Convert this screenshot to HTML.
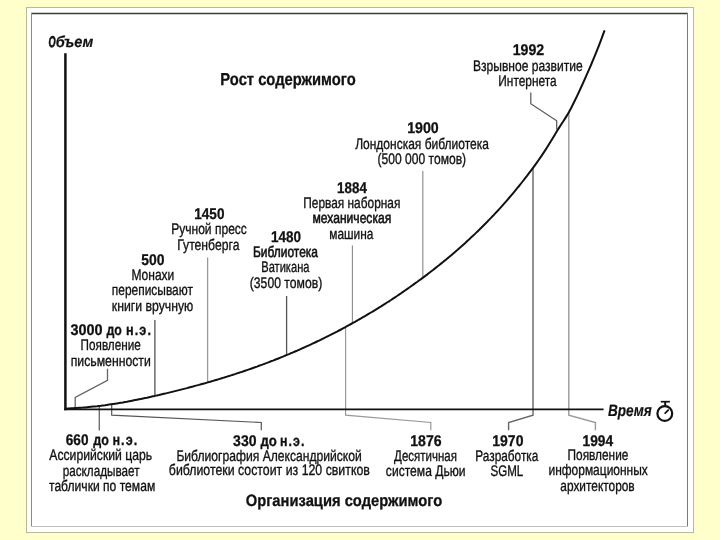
<!DOCTYPE html>
<html><head><meta charset="utf-8"><style>
html,body{margin:0;padding:0;width:720px;height:540px;overflow:hidden;background:#FFFFCC;}
svg{position:absolute;left:0;top:0;display:block;}
.r{font-weight:400;stroke:#111;stroke-width:0.35px;} .m{font-weight:400;stroke:#111;stroke-width:0.6px;} .b{font-weight:700;stroke:#111;stroke-width:0.3px;} .bi{font-weight:700;font-style:italic;stroke:#111;stroke-width:0.2px;} .bj{font-weight:700;font-style:italic;stroke:#111;stroke-width:0.7px;} text{font-family:"Liberation Sans",sans-serif;fill:#111;text-rendering:geometricPrecision;}
</style></head><body>
<svg width="720" height="540" viewBox="0 0 720 540">
<rect x="26.5" y="7.5" width="667" height="525" fill="#FFFFFF" stroke="#B8B89A" stroke-width="1"/>
<rect x="31" y="13" width="657" height="514" fill="#FFFFFF"/>
<line x1="31" y1="13.5" x2="688" y2="13.5" stroke="#3a3a3a" stroke-width="1.5"/>
<line x1="31.5" y1="13" x2="31.5" y2="527" stroke="#8a8a8a" stroke-width="1"/>
<line x1="687.5" y1="13" x2="687.5" y2="527" stroke="#7a7a7a" stroke-width="1"/>
<line x1="31" y1="526.5" x2="688" y2="526.5" stroke="#c0c0c0" stroke-width="1"/>
<g fill="none" stroke-linejoin="miter">
<path d="M107.5,368.8 L107.5,380.3 L75.2,397.5 L75.2,408" stroke="#666" stroke-width="1.3"/>
<path d="M154.9,320 L154.9,396" stroke="#555" stroke-width="1.3"/>
<path d="M207.6,257.5 L207.6,382" stroke="#999" stroke-width="1.3"/>
<path d="M286.6,296 L286.6,355" stroke="#555" stroke-width="1.3"/>
<path d="M352.4,245.6 L352.4,323.5" stroke="#888" stroke-width="1.1"/>
<path d="M422.8,171 L422.8,278.5" stroke="#999" stroke-width="1.3"/>
<path d="M530.8,92.5 L530.8,103.8 L556.7,120.8 L556.7,129.5" stroke="#555" stroke-width="1.2"/>
<path d="M99.3,406 L99.3,430.4" stroke="#666" stroke-width="1.3"/>
<path d="M111.7,404.5 L111.7,415.2 L261.3,422.5 L261.3,430.2" stroke="#555" stroke-width="1.2"/>
<path d="M345.6,327.5 L345.6,415.2 L430.8,422.5 L430.8,430.2" stroke="#999" stroke-width="1.2"/>
<path d="M533.0,168 L533.0,415.2 L508.6,422.5 L508.6,430.2" stroke="#666" stroke-width="1.4"/>
<path d="M568.8,111.5 L568.8,415.2 L595.4,422.5 L595.4,430.2" stroke="#999" stroke-width="1.4"/>
</g>
<path d="M67.0,408.4 L69.0,408.4 L71.0,408.3 L73.0,408.2 L75.0,408.1 L77.0,408.0 L79.0,407.8 L81.0,407.7 L83.0,407.6 L85.0,407.4 L87.0,407.2 L89.0,407.0 L91.0,406.8 L93.0,406.6 L95.0,406.4 L97.0,406.2 L99.0,405.9 L101.0,405.7 L103.0,405.4 L105.0,405.2 L107.0,404.9 L109.0,404.6 L111.0,404.3 L113.0,404.0 L115.0,403.7 L117.0,403.4 L119.0,403.1 L121.0,402.7 L123.0,402.4 L125.0,402.0 L127.0,401.7 L129.0,401.3 L131.0,400.9 L133.0,400.5 L135.0,400.1 L137.0,399.7 L139.0,399.3 L141.0,398.9 L143.0,398.5 L145.0,398.1 L147.0,397.7 L149.0,397.2 L151.0,396.8 L153.0,396.3 L155.0,395.9 L157.0,395.4 L159.0,395.0 L161.0,394.5 L163.0,394.0 L165.0,393.6 L167.0,393.1 L169.0,392.6 L171.0,392.1 L173.0,391.6 L175.0,391.1 L177.0,390.6 L179.0,390.1 L181.0,389.6 L183.0,389.1 L185.0,388.6 L187.0,388.1 L189.0,387.5 L191.0,387.0 L193.0,386.5 L195.0,385.9 L197.0,385.4 L199.0,384.9 L201.0,384.3 L203.0,383.7 L205.0,383.2 L207.0,382.6 L209.0,382.0 L211.0,381.5 L213.0,380.9 L215.0,380.3 L217.0,379.7 L219.0,379.1 L221.0,378.5 L223.0,377.9 L225.0,377.3 L227.0,376.6 L229.0,376.0 L231.0,375.4 L233.0,374.7 L235.0,374.1 L237.0,373.4 L239.0,372.8 L241.0,372.1 L243.0,371.5 L245.0,370.8 L247.0,370.1 L249.0,369.4 L251.0,368.7 L253.0,368.0 L255.0,367.3 L257.0,366.6 L259.0,365.8 L261.0,365.1 L263.0,364.4 L265.0,363.6 L267.0,362.9 L269.0,362.1 L271.0,361.3 L273.0,360.6 L275.0,359.8 L277.0,359.0 L279.0,358.2 L281.0,357.4 L283.0,356.6 L285.0,355.7 L287.0,354.9 L289.0,354.1 L291.0,353.2 L293.0,352.4 L295.0,351.5 L297.0,350.7 L299.0,349.8 L301.0,348.9 L303.0,348.0 L305.0,347.1 L307.0,346.2 L309.0,345.3 L311.0,344.4 L313.0,343.4 L315.0,342.5 L317.0,341.5 L319.0,340.6 L321.0,339.6 L323.0,338.6 L325.0,337.6 L327.0,336.6 L329.0,335.6 L331.0,334.6 L333.0,333.6 L335.0,332.6 L337.0,331.6 L339.0,330.5 L341.0,329.5 L343.0,328.4 L345.0,327.3 L347.0,326.2 L349.0,325.1 L351.0,324.0 L353.0,322.9 L355.0,321.8 L357.0,320.7 L359.0,319.5 L361.0,318.4 L363.0,317.2 L365.0,316.1 L367.0,314.9 L369.0,313.7 L371.0,312.5 L373.0,311.3 L375.0,310.1 L377.0,308.8 L379.0,307.6 L381.0,306.4 L383.0,305.1 L385.0,303.8 L387.0,302.5 L389.0,301.3 L391.0,300.0 L393.0,298.6 L395.0,297.3 L397.0,296.0 L399.0,294.6 L401.0,293.3 L403.0,291.9 L405.0,290.5 L407.0,289.1 L409.0,287.7 L411.0,286.3 L413.0,284.9 L415.0,283.4 L417.0,282.0 L419.0,280.5 L421.0,279.1 L423.0,277.6 L425.0,276.1 L427.0,274.6 L429.0,273.0 L431.0,271.5 L433.0,270.0 L435.0,268.4 L437.0,266.8 L439.0,265.2 L441.0,263.6 L443.0,262.0 L445.0,260.4 L447.0,258.7 L449.0,257.1 L451.0,255.4 L453.0,253.7 L455.0,252.0 L457.0,250.3 L459.0,248.5 L461.0,246.8 L463.0,245.0 L465.0,243.2 L467.0,241.3 L469.0,239.5 L471.0,237.6 L473.0,235.8 L475.0,233.9 L477.0,231.9 L479.0,230.0 L481.0,228.0 L483.0,226.0 L485.0,224.0 L487.0,222.0 L489.0,219.9 L491.0,217.9 L493.0,215.8 L495.0,213.6 L497.0,211.5 L499.0,209.3 L501.0,207.1 L503.0,204.8 L505.0,202.6 L507.0,200.3 L509.0,198.0 L511.0,195.6 L513.0,193.3 L515.0,190.9 L517.0,188.4 L519.0,186.0 L521.0,183.5 L523.0,181.0 L525.0,178.4 L527.0,175.9 L529.0,173.2 L531.0,170.6 L533.0,167.9 L535.0,165.1 L537.0,162.3 L539.0,159.5 L541.0,156.6 L543.0,153.6 L545.0,150.6 L547.0,147.5 L549.0,144.3 L551.0,141.0 L553.0,137.7 L555.0,134.4 L557.0,131.0 L559.0,127.9 L561.0,124.8 L563.0,121.7 L565.0,118.6 L567.0,115.4 L569.0,112.0 L571.0,108.3 L573.0,104.3 L575.0,100.3 L577.0,96.1 L579.0,91.8 L581.0,87.5 L583.0,83.1 L585.0,78.7 L587.0,74.2 L589.0,69.7 L591.0,65.0 L593.0,60.2 L595.0,55.4 L597.0,50.4 L599.0,45.3 L601.0,40.1 L603.0,34.7 L604.3,31.1" fill="none" stroke="#111" stroke-width="2" stroke-linejoin="round" stroke-linecap="round"/>
<line x1="65.4" y1="53.3" x2="65.4" y2="410.2" stroke="#111" stroke-width="2.5"/>
<line x1="64.15" y1="409.3" x2="603.6" y2="409.3" stroke="#111" stroke-width="1.8"/>
<g fill="none" stroke="#111">
<circle cx="664.8" cy="413.5" r="7.4" stroke-width="2.2"/>
<line x1="660.8" y1="401.7" x2="669.9" y2="401.7" stroke-width="1.7"/>
<line x1="665.2" y1="402" x2="665.2" y2="406.5" stroke-width="2"/>
<line x1="665.2" y1="413.2" x2="668.2" y2="410.2" stroke-width="1.8" stroke-linecap="round"/>
</g>
<g style="filter:grayscale(1)">
<text class="bj" font-size="15.6" transform="translate(48.60 47.30) scale(0.5842 1)">О</text>
<text class="bi" font-size="15.6" transform="translate(55.79 47.30) scale(0.9344 1)">бъем</text>
<text class="b" font-size="17.3" transform="translate(220.36 84.80) scale(0.8532 1)">Рост содержимого</text>
<text class="b" font-size="15.5" transform="translate(512.68 55.30) scale(0.9144 1)">1992</text>
<text class="r" font-size="15.3" transform="translate(472.98 70.60) scale(0.7883 1)">Взрывное развитие</text>
<text class="r" font-size="15.3" transform="translate(498.29 85.80) scale(0.7784 1)">Интернета</text>
<text class="b" font-size="15.5" transform="translate(407.18 133.30) scale(0.9148 1)">1900</text>
<text class="r" font-size="15.3" transform="translate(355.20 148.50) scale(0.7840 1)">Лондонская библиотека</text>
<text class="r" font-size="15.3" transform="translate(377.58 163.50) scale(0.7885 1)">(500 000 томов)</text>
<text class="b" font-size="15.5" transform="translate(337.12 192.80) scale(0.8620 1)">1884</text>
<text class="r" font-size="15.3" transform="translate(303.29 208.10) scale(0.7765 1)">Первая наборная</text>
<text class="m" font-size="15.3" transform="translate(312.52 223.40) scale(0.7901 1)">механическая</text>
<text class="r" font-size="15.3" transform="translate(329.27 238.90) scale(0.7778 1)">машина</text>
<text class="b" font-size="15.5" transform="translate(271.02 242.00) scale(0.8698 1)">1480</text>
<text class="m" font-size="15.3" transform="translate(253.03 256.60) scale(0.7805 1)">Библиотека</text>
<text class="r" font-size="15.3" transform="translate(261.24 272.20) scale(0.7259 1)">Ватикана</text>
<text class="r" font-size="15.3" transform="translate(249.77 287.70) scale(0.7963 1)">(3500 томов)</text>
<text class="b" font-size="15.5" transform="translate(194.32 218.60) scale(0.8728 1)">1450</text>
<text class="r" font-size="15.3" transform="translate(171.18 233.80) scale(0.7872 1)">Ручной пресс</text>
<text class="r" font-size="15.3" transform="translate(177.28 249.90) scale(0.7960 1)">Гутенберга</text>
<text class="b" font-size="15.5" transform="translate(141.20 264.90) scale(0.8962 1)">500</text>
<text class="r" font-size="15.3" transform="translate(131.38 279.80) scale(0.7868 1)">Монахи</text>
<text class="r" font-size="15.3" transform="translate(111.87 295.20) scale(0.7799 1)">переписывают</text>
<text class="r" font-size="15.3" transform="translate(111.86 310.50) scale(0.7996 1)">книги вручную</text>
<text class="b" font-size="15.5" transform="translate(70.41 334.80) scale(0.9315 1)">3000</text>
<text class="b" font-size="15.5" transform="translate(106.40 334.80) scale(0.7982 1)">до</text>
<text class="b" font-size="15.5" letter-spacing="1.3" transform="translate(126.03 334.80) scale(0.8184 1)">н.э.</text>
<text class="r" font-size="15.3" transform="translate(80.60 349.60) scale(0.7662 1)">Появление</text>
<text class="r" font-size="15.3" transform="translate(70.66 365.50) scale(0.8011 1)">письменности</text>
<text class="bi" font-size="16.5" transform="translate(608.02 415.60) scale(0.8222 1)">Время</text>
<text class="b" font-size="15.5" transform="translate(65.81 445.30) scale(0.8762 1)">660</text>
<text class="b" font-size="15.5" transform="translate(93.30 445.30) scale(0.8086 1)">до</text>
<text class="b" font-size="15.5" letter-spacing="1.3" transform="translate(112.43 445.30) scale(0.8150 1)">н.э.</text>
<text class="r" font-size="15.3" transform="translate(49.29 460.20) scale(0.7969 1)">Ассирийский царь</text>
<text class="r" font-size="15.3" transform="translate(62.68 475.60) scale(0.7658 1)">раскладывает</text>
<text class="r" font-size="15.3" transform="translate(48.97 490.70) scale(0.7913 1)">таблички по темам</text>
<text class="b" font-size="15.5" transform="translate(233.11 445.50) scale(0.9037 1)">330</text>
<text class="b" font-size="15.5" transform="translate(260.41 445.50) scale(0.8503 1)">до</text>
<text class="b" font-size="15.5" letter-spacing="1.3" transform="translate(280.04 445.50) scale(0.8013 1)">н.э.</text>
<text class="r" font-size="15.3" transform="translate(176.38 460.50) scale(0.7922 1)">Библиография Александрийской</text>
<text class="r" font-size="15.3" transform="translate(168.82 475.40) scale(0.8060 1)">библиотеки состоит из 120 свитков</text>
<text class="b" font-size="15.5" transform="translate(410.29 445.50) scale(0.9081 1)">1876</text>
<text class="r" font-size="15.3" transform="translate(394.12 460.50) scale(0.7512 1)">Десятичная</text>
<text class="r" font-size="15.3" transform="translate(385.86 475.50) scale(0.7903 1)">система Дьюи</text>
<text class="b" font-size="15.5" transform="translate(492.29 445.50) scale(0.9028 1)">1970</text>
<text class="r" font-size="15.3" transform="translate(475.30 460.60) scale(0.7729 1)">Разработка</text>
<text class="r" font-size="15.3" transform="translate(490.50 475.60) scale(0.7555 1)">SGML</text>
<text class="b" font-size="15.5" transform="translate(582.51 445.50) scale(0.8854 1)">1994</text>
<text class="r" font-size="15.3" transform="translate(567.60 460.40) scale(0.7740 1)">Появление</text>
<text class="r" font-size="15.3" transform="translate(548.47 475.40) scale(0.7819 1)">информационных</text>
<text class="r" font-size="15.3" transform="translate(560.36 490.70) scale(0.7763 1)">архитекторов</text>
<text class="b" font-size="16.5" transform="translate(245.77 506.00) scale(0.8930 1)">Организация содержимого</text>
</g>
</svg>
</body></html>
